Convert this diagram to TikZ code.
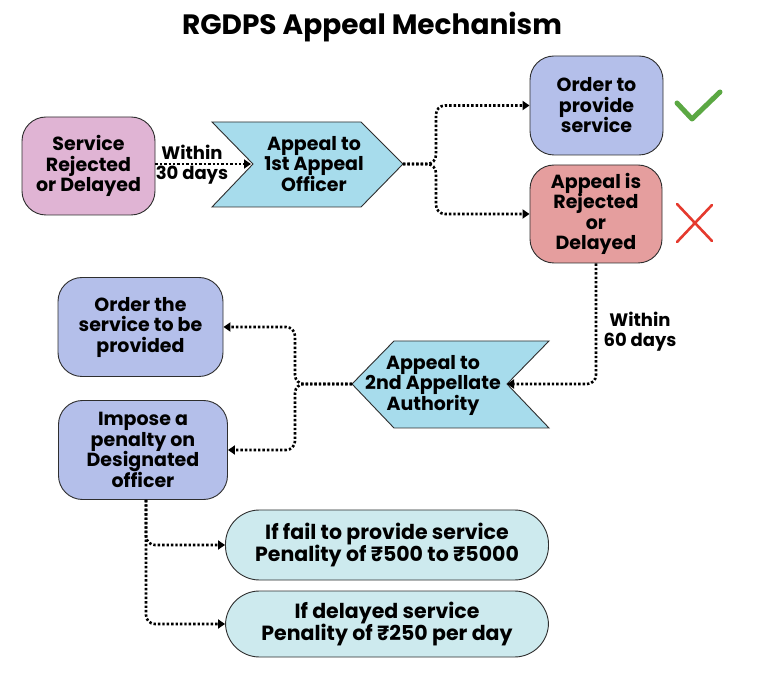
\documentclass[tikz,border=0pt]{standalone}
\usepackage{fontspec}
\setmainfont{Poppins}
\usetikzlibrary{arrows.meta}
\definecolor{pinkc}{HTML}{E0B4D4}
\definecolor{lavc}{HTML}{B4BFEA}
\definecolor{redbox}{HTML}{E59E9E}
\definecolor{chevc}{HTML}{A7DCEC}
\definecolor{penc}{HTML}{CDEAEE}
\definecolor{outl}{HTML}{2E2E2E}
\definecolor{checkg}{HTML}{5BA843}
\definecolor{crossr}{HTML}{E53A2E}
\begin{document}
\begin{tikzpicture}[x=1pt,y=-1pt,
  txt/.style={align=center, font=\fontsize{19}{20.5}\selectfont\bfseries, inner sep=0pt},
  box/.style={txt, draw=outl, line width=0.9pt, rounded corners=24pt},
  pill/.style={txt, font=\fontsize{20.5}{22}\selectfont\bfseries, draw=outl, line width=0.9pt, rounded corners=34pt, minimum width=323pt},
  chev/.style={draw=outl, line width=0.9pt, fill=chevc},
  conn/.style={line width=2.6pt, dash pattern=on 2.4pt off 2pt, rounded corners=9pt,
               -{Triangle[length=7pt,width=9pt]}},
  lbl/.style={txt, font=\fontsize{18}{20}\selectfont\bfseries}]
\useasboundingbox (0,0) rectangle (764,676);
\fill[white] (0,0) rectangle (764,676);

% title
\node[font=\fontsize{28}{30}\selectfont\bfseries] (title) at (372,27) {RGDPS Appeal Mechanism};

% first row
\node[box, fill=pinkc, minimum width=133pt, minimum height=98pt] (svc) at (88.5,166) {Service\\Rejected\\or Delayed};

\draw[chev] (212,122) -- (361,122) -- (403,164) -- (361,207) -- (212,207) -- (253,164) -- cycle;
\coordinate (ch1in) at (251,164);
\coordinate (ch1tip) at (403,164);
\node[txt] (ch1) at (314,164) {Appeal to\\1st Appeal\\Officer};

\node[box, fill=lavc, minimum width=133pt, minimum height=99pt] (ord1) at (596.5,105.5) {Order to\\provide\\service};
\node[box, fill=redbox, minimum width=132pt, minimum height=98pt] (rej) at (596,214) {Appeal is\\Rejected\\or\\Delayed};

\draw[conn] (svc.east |- ch1in) -- (ch1in);
\node[lbl] (w30) at (192,165) {Within\\30 days};

\coordinate (split1) at (436,164);
\draw[conn] (ch1tip) -- (split1) |- (ord1.west);
\draw[conn] (ch1tip) -- (split1) |- (rej.west);

% check and cross
\draw[checkg, line width=5pt, line cap=round, line join=round] (677,103) -- (692,119) -- (720,92);
\draw[crossr, line width=2.6pt, line cap=round] (677,204) -- (712,241) (712,205) -- (677,242);

% second chevron
\draw[chev] (352,384) -- (394,341) -- (549,341) -- (507,384) -- (549,428) -- (394,428) -- cycle;
\coordinate (ch2in) at (507,384);
\coordinate (ch2tip) at (352,384);
\node[txt] (ch2) at (433,385) {Appeal to\\2nd Appellate\\Authority};

\draw[conn] (rej.south) |- (ch2in);
\node[lbl] (w60) at (640,332) {Within\\60 days};

% left boxes
\node[box, fill=lavc, minimum width=165pt, minimum height=99pt] (ord2) at (140.5,327) {Order the\\service to be\\provided};
\node[box, fill=lavc, minimum width=169pt, minimum height=99pt] (imp) at (143,450) {Impose a\\penalty on\\Designated\\officer};

\coordinate (split2) at (295,384);
\draw[conn] (ch2tip) -- (split2) |- (ord2.east);
\draw[conn] (ch2tip) -- (split2) |- (imp.east);

% penalties
\node[pill, fill=penc, minimum height=70pt] (pen1) at (387,545) {If fail to provide service\\Penality of ₹500 to ₹5000};
\node[pill, fill=penc, minimum height=66pt] (pen2) at (387,624) {If delayed service\\Penality of ₹250 per day};

\coordinate (imp0) at (146,500);
\draw[conn] (imp.south -| imp0) |- (pen1.west);
\draw[conn] (imp.south -| imp0) |- (pen2.west);
\end{tikzpicture}
\end{document}
